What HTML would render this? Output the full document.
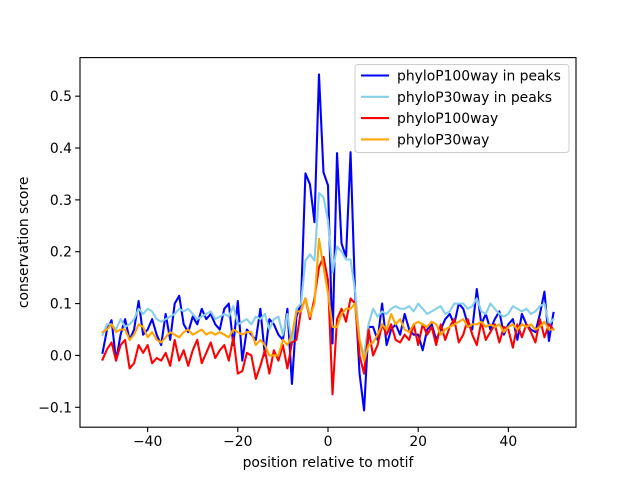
<!DOCTYPE html>
<html><head><meta charset="utf-8"><style>body{margin:0;background:#fff}svg{display:block;font-family:"DejaVu Sans","Liberation Sans",sans-serif}</style></head>
<body>
<svg id="c" width="640" height="480"></svg>
<script>
const xs = []; for (let i=-50;i<=50;i++) xs.push(i);
const phylo100Peaks = [0.005,0.05,0.068,-0.01,0.04,0.07,0.03,0.05,0.105,0.04,
0.05,0.07,0.04,0.02,0.08,0.03,0.1,0.115,0.06,0.045,
0.075,0.06,0.09,0.07,0.08,0.06,0.05,0.09,0.1,0.02,
0.105,-0.01,0.05,0.04,0.03,0.09,0.0,0.07,0.06,0.04,
0.03,0.09,-0.055,0.075,0.1,0.351,0.33,0.257,0.542,0.353,
0.328,0.023,0.39,0.216,0.19,0.392,0.12,-0.035,-0.106,0.055,
0.055,0.03,0.1,0.02,0.05,0.06,0.04,0.08,0.05,0.04,
0.04,0.01,0.05,0.06,0.03,0.05,0.07,0.08,0.06,0.1,
0.09,0.06,0.05,0.128,0.06,0.08,0.05,0.07,0.085,0.04,
0.06,0.07,0.03,0.08,0.06,0.05,0.045,0.08,0.123,0.028,0.082];
const phylo30Peaks = [0.04,0.06,0.06,0.05,0.07,0.055,0.06,0.07,0.09,0.08,
0.09,0.085,0.07,0.065,0.07,0.075,0.08,0.09,0.085,0.09,
0.08,0.07,0.075,0.08,0.085,0.07,0.075,0.08,0.075,0.095,
0.06,0.065,0.07,0.06,0.075,0.07,0.08,0.05,0.07,0.075,
0.04,0.08,0.02,0.09,0.1,0.183,0.195,0.183,0.313,0.305,
0.26,0.16,0.21,0.2,0.185,0.185,0.125,0.03,0.0,0.06,
0.09,0.075,0.085,0.08,0.09,0.095,0.09,0.09,0.095,0.085,
0.1,0.09,0.08,0.085,0.09,0.095,0.08,0.085,0.1,0.1,
0.1,0.09,0.095,0.11,0.085,0.08,0.1,0.09,0.08,0.075,
0.08,0.095,0.09,0.085,0.09,0.08,0.085,0.095,0.1,0.06,0.07];
const phylo100 = [-0.008,0.012,0.025,-0.01,0.02,0.03,-0.025,-0.015,0.02,0.005,
0.02,-0.015,-0.005,-0.01,0.005,-0.02,0.03,-0.01,0.01,-0.02,
0.01,0.03,-0.015,0.005,0.025,-0.005,0.01,0.02,-0.01,0.035,
-0.035,-0.03,0.005,0.0,-0.045,-0.02,0.01,-0.035,0.01,-0.01,
0.02,-0.025,0.025,0.03,0.087,0.11,0.07,0.11,0.17,0.19,
0.145,-0.075,0.07,0.09,0.065,0.11,0.1,0.0,-0.035,0.05,
0.0,0.02,0.06,0.04,0.06,0.03,0.025,0.04,0.03,0.06,
0.02,0.06,0.04,0.055,0.02,0.06,0.03,0.055,0.07,0.025,
0.04,0.07,0.04,0.02,0.065,0.03,0.045,0.06,0.025,0.055,
0.05,0.015,0.06,0.035,0.06,0.045,0.025,0.07,0.035,0.06,0.05];
const phylo30 = [0.045,0.05,0.06,0.045,0.05,0.05,0.03,0.04,0.06,0.055,
0.035,0.045,0.03,0.025,0.035,0.045,0.04,0.035,0.045,0.05,
0.04,0.045,0.05,0.04,0.045,0.04,0.045,0.04,0.035,0.05,
0.045,0.04,0.045,0.045,0.02,0.03,0.02,0.0,0.0,0.0,
0.03,0.02,0.04,0.085,0.085,0.11,0.075,0.1,0.225,0.17,
0.12,0.055,0.055,0.08,0.09,0.09,0.1,0.03,-0.01,0.02,
0.025,0.04,0.06,0.05,0.08,0.06,0.07,0.05,0.045,0.06,
0.065,0.06,0.055,0.065,0.06,0.04,0.05,0.055,0.06,0.065,
0.07,0.055,0.06,0.06,0.065,0.055,0.06,0.055,0.06,0.045,
0.055,0.06,0.05,0.06,0.055,0.06,0.05,0.055,0.065,0.05,0.05];
const xTicks = [-40,-20,0,20,40];
const yTicks = [-0.1,0.0,0.1,0.2,0.3,0.4,0.5];
const yTickLabels = ["−0.1","0.0","0.1","0.2","0.3","0.4","0.5"];
const seriesNames = ["phyloP100way in peaks","phyloP30way in peaks","phyloP100way","phyloP30way"];

const L=80,R=576,T=57.6,B=427.2;
const all=[].concat(phylo100Peaks,phylo30Peaks,phylo100,phylo30);
const ymin=Math.min(...all),ymax=Math.max(...all),yr=ymax-ymin;
const y0=ymin-0.05*yr,y1=ymax+0.05*yr;
const x0=xs[0]-0.05*(xs[xs.length-1]-xs[0]),x1=xs[xs.length-1]+0.05*(xs[xs.length-1]-xs[0]);
const sx=v=>L+(v-x0)/(x1-x0)*(R-L);
const sy=v=>B-(v-y0)/(y1-y0)*(B-T);
const svg=document.getElementById('c');const NS='http://www.w3.org/2000/svg';
function mk(tag,attrs,parent){const e=document.createElementNS(NS,tag);for(const k in attrs)e.setAttribute(k,attrs[k]);(parent||svg).appendChild(e);return e;}
const colors=["#0000ff","#87ceeb","#ff0000","#ffa500"];
const data=[phylo100Peaks,phylo30Peaks,phylo100,phylo30];
const names=["line-phylop100way-peaks","line-phylop30way-peaks","line-phylop100way","line-phylop30way"];
data.forEach((d,s)=>{
  const p=mk('polyline',{points:d.map((v,i)=>sx(xs[i]).toFixed(2)+','+sy(v).toFixed(2)).join(' '),fill:'none',stroke:colors[s],'stroke-width':2.08,'stroke-linejoin':'round','stroke-linecap':'square'});
  
  
});
const frame=mk('rect',{x:L,y:T,width:R-L,height:B-T,fill:'none',stroke:'#000','stroke-width':1.1});


xTicks.forEach(t=>{
  const x=sx(t);
  const tk=mk('line',{x1:x,x2:x,y1:B,y2:B+4.9,stroke:'#000','stroke-width':1.1});
  
  
  const tx=mk('text',{x:x,y:B+19,'text-anchor':'middle','font-size':'13.9px'});
  tx.textContent=t<0?'−'+(-t):String(t);
  
  
});
yTicks.forEach((t,i)=>{
  const y=sy(t);
  const tk=mk('line',{x1:L-4.9,x2:L,y1:y,y2:y,stroke:'#000','stroke-width':1.1});
  
  
  const tx=mk('text',{x:L-8,y:y+5,'text-anchor':'end','font-size':'13.9px'});
  tx.textContent=yTickLabels[i];
  
  
});
const xl=mk('text',{x:(L+R)/2,y:467,'text-anchor':'middle','font-size':'13.9px'});
xl.textContent='position relative to motif';


const yl=mk('text',{x:0,y:0,'text-anchor':'middle','font-size':'13.9px',transform:`translate(28,${(T+B)/2}) rotate(-90)`});
yl.textContent='conservation score';


const lg=mk('g',{});


mk('rect',{x:355,y:64.5,width:214,height:88,rx:3,fill:'#fff','fill-opacity':0.8,stroke:'#ccc','stroke-width':1},lg);
seriesNames.forEach((n,i)=>{
  const y=75.5+i*21.3;
  const ln=mk('line',{x1:361,x2:389,y1:y,y2:y,stroke:colors[i],'stroke-width':2.08},lg);
  
  
  const tx=mk('text',{x:397,y:y+5,'font-size':'13.9px'},lg);
  tx.textContent=n;
  
  
});
</script>
</body></html>
